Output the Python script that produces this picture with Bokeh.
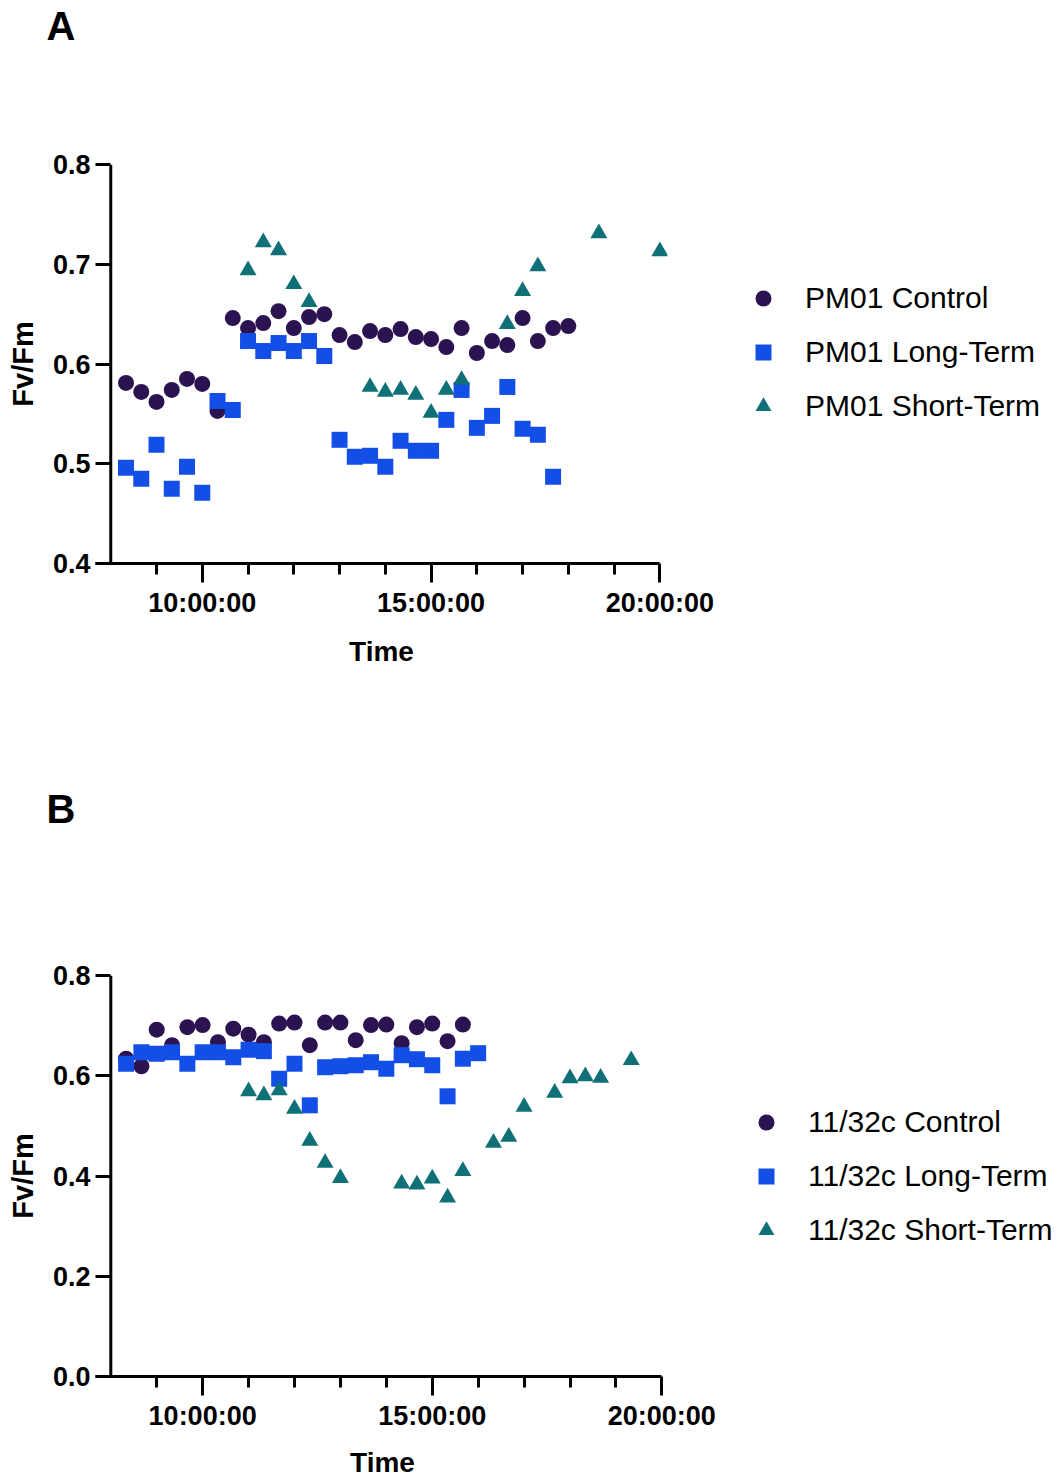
import numpy as np
import pandas as pd
from bokeh.plotting import figure
from bokeh.layouts import column
from bokeh.models import (FixedTicker, DatetimeTickFormatter, PrintfTickFormatter,
                          Legend, LegendItem, Span, Label, ColumnDataSource)
from bokeh.embed import file_html
from bokeh.resources import INLINE

# ---------------- data ----------------
# Panel A (PM01)
ctrl_A_t = ["08:20", "08:40", "09:00", "09:20", "09:40", "10:00", "10:20", "10:40", "11:00", "11:20",
            "11:40", "12:00", "12:20", "12:40", "13:00", "13:20", "13:40", "14:00", "14:20", "14:40",
            "15:00", "15:20", "15:40", "16:00", "16:20", "16:40", "17:00", "17:20", "17:40", "18:00"]
ctrl_A_v = [0.581, 0.572, 0.562, 0.574, 0.585, 0.580, 0.553, 0.646, 0.636, 0.641,
            0.653, 0.636, 0.647, 0.650, 0.629, 0.622, 0.633, 0.629, 0.635, 0.627,
            0.625, 0.617, 0.636, 0.611, 0.623, 0.619, 0.646, 0.623, 0.636, 0.638]

long_A_t = ["08:20", "08:40", "09:00", "09:20", "09:40", "10:00", "10:20", "10:40", "11:00", "11:20",
            "11:40", "12:00", "12:20", "12:40", "13:00", "13:20", "13:40", "14:00", "14:20", "14:40",
            "15:00", "15:20", "15:40", "16:00", "16:20", "16:40", "17:00", "17:20", "17:40"]
long_A_v = [0.496, 0.485, 0.519, 0.475, 0.497, 0.471, 0.563, 0.554, 0.623, 0.613,
            0.621, 0.613, 0.623, 0.608, 0.524, 0.507, 0.508, 0.497, 0.523, 0.513,
            0.513, 0.544, 0.574, 0.536, 0.548, 0.577, 0.535, 0.529, 0.487]

short_A_t = ["11:00", "11:20", "11:40", "12:00", "12:20", "13:40", "14:00", "14:20", "14:40",
             "15:00", "15:20", "15:40", "16:40", "17:00", "17:20", "18:40", "20:00"]
short_A_v = [0.694, 0.722, 0.714, 0.680, 0.662, 0.577, 0.572, 0.574, 0.569,
             0.551, 0.574, 0.584, 0.640, 0.673, 0.698, 0.731, 0.713]

# Panel B (11/32c)
ctrl_B_t = ["08:20", "08:40", "09:00", "09:20", "09:40", "10:00", "10:20", "10:40", "11:00", "11:20",
            "11:40", "12:00", "12:20", "12:40", "13:00", "13:20", "13:40", "14:00", "14:20", "14:40",
            "15:00", "15:20", "15:40"]
ctrl_B_v = [0.634, 0.619, 0.692, 0.661, 0.697, 0.701, 0.667, 0.694, 0.682, 0.667,
            0.704, 0.706, 0.661, 0.706, 0.706, 0.671, 0.701, 0.702, 0.665, 0.697,
            0.704, 0.669, 0.702]

long_B_t = ["08:20", "08:40", "09:00", "09:20", "09:40", "10:00", "10:20", "10:40", "11:00", "11:20",
            "11:40", "12:00", "12:20", "12:40", "13:00", "13:20", "13:40", "14:00", "14:20", "14:40",
            "15:00", "15:20", "15:40", "16:00"]
long_B_v = [0.624, 0.647, 0.644, 0.647, 0.624, 0.647, 0.647, 0.637, 0.652, 0.649,
            0.594, 0.624, 0.541, 0.617, 0.619, 0.621, 0.627, 0.614, 0.641, 0.633,
            0.621, 0.559, 0.634, 0.645]

short_B_t = ["11:00", "11:20", "11:40", "12:00", "12:20", "12:40", "13:00", "14:20", "14:40", "15:00",
             "15:20", "15:40", "16:20", "16:40", "17:00", "17:40", "18:00", "18:20", "18:40", "19:20"]
short_B_v = [0.569, 0.561, 0.571, 0.534, 0.470, 0.426, 0.396, 0.385, 0.383, 0.395,
             0.357, 0.410, 0.466, 0.478, 0.538, 0.566, 0.595, 0.599, 0.596, 0.631]

series_A = ["PM01 Control", "PM01 Long-Term", "PM01 Short-Term"]
series_B = ["11/32c Control", "11/32c Long-Term", "11/32c Short-Term"]

x_start = "07:40"      # x axis line starts here
x_yaxis_at = "08:00"   # y axis line drawn here
x_end = "20:00"        # x axis line ends here
x_pad_end = "20:10"    # room so the last marker is not cut
x_major = ["10:00", "15:00", "20:00"]
x_minor = ["09:00", "11:00", "12:00", "13:00", "14:00", "16:00", "17:00", "18:00", "19:00"]
y_ticks_A = [0.4, 0.5, 0.6, 0.7, 0.8]
y_ticks_B = [0.0, 0.2, 0.4, 0.6, 0.8]

COLORS = ["#2b1250", "#134fe6", "#0f7078"]
MARKERS = ["circle", "square", "triangle"]
SIZES = [16, 16, 17]

DAY = "2000-01-01 "
EPOCH = pd.Timestamp("1970-01-01")


def to_dt(lst):
    return pd.to_datetime([DAY + t for t in lst])


def to_ms(t):
    return (pd.Timestamp(DAY + t) - EPOCH).total_seconds() * 1000.0


FONT = "Liberation Sans"
PAGE_W = 1061


def letter_strip(letter, height, y_pos):
    f = figure(width=PAGE_W, height=height, x_range=(0, 1), y_range=(0, 1),
               x_axis_location=None, y_axis_location=None, toolbar_location=None,
               output_backend="svg", min_border_left=0, min_border_right=0,
               min_border_top=0, min_border_bottom=0)
    f.frame_align = False
    f.title.visible = False
    f.outline_line_color = None
    f.xgrid.visible = False
    f.ygrid.visible = False
    f.add_layout(Label(x=46, y=y_pos, x_units="screen", y_units="screen", text=letter,
                       text_align="left", text_baseline="alphabetic", text_font=FONT,
                       text_font_style="bold", text_font_size="40px", text_color="black"))
    return f


def make_panel(names, data, y_ticks, frame_w, frame_h, top, bottom, right, legend_xy, time_standoff):
    p = figure(x_axis_type="datetime", frame_width=frame_w, frame_height=frame_h,
               x_range=(to_ms(x_start), to_ms(x_pad_end)), y_range=(y_ticks[0], y_ticks[-1]),
               output_backend="svg", toolbar_location=None,
               min_border_left=95, min_border_right=right, min_border_top=top, min_border_bottom=bottom)
    p.frame_align = False
    p.title.visible = False
    p.outline_line_color = None
    p.xgrid.visible = False
    p.ygrid.visible = False
    p.background_fill_color = "white"
    p.border_fill_color = "white"

    renderers = []
    for (t, v), c, m, s in zip(data, COLORS, MARKERS, SIZES):
        src = ColumnDataSource(dict(x=to_dt(t), y=v))
        r = p.scatter("x", "y", source=src, marker=m, size=s, fill_color=c, line_color=None)
        renderers.append(r)

    # x axis
    xa = p.xaxis[0]
    xa.bounds = (to_ms(x_start), to_ms(x_end))
    xa.ticker = FixedTicker(ticks=[to_ms(t) for t in x_major], minor_ticks=[to_ms(t) for t in x_minor])
    fmt = "%H:%M:%S"
    xa.formatter = DatetimeTickFormatter(microseconds=fmt, milliseconds=fmt, seconds=fmt, minsec=fmt,
                                         minutes=fmt, hourmin=fmt, hours=fmt, days=fmt, months=fmt, years=fmt)
    xa.axis_line_width = 3
    xa.major_tick_line_width = 3
    xa.minor_tick_line_width = 3
    xa.major_tick_out = 19
    xa.major_tick_in = 0
    xa.minor_tick_out = 11
    xa.minor_tick_in = 0
    xa.major_label_standoff = 5
    xa.major_label_text_font = FONT
    xa.major_label_text_font_style = "bold"
    xa.major_label_text_font_size = "27px"
    xa.major_label_text_color = "black"
    xa.axis_label = "Time"
    xa.axis_label_standoff = time_standoff
    xa.axis_label_text_font = FONT
    xa.axis_label_text_font_style = "bold"
    xa.axis_label_text_font_size = "28px"
    xa.axis_label_text_color = "black"

    # y axis: ticks point inward from the frame edge; the axis line itself is a span at 08:00
    ya = p.yaxis[0]
    ya.ticker = FixedTicker(ticks=y_ticks)
    ya.formatter = PrintfTickFormatter(format="%.1f")
    ya.axis_line_color = None
    ya.major_tick_line_width = 3
    ya.major_tick_out = 0
    ya.major_tick_in = 15
    ya.minor_tick_line_color = None
    ya.major_label_standoff = 5
    ya.major_label_text_font = FONT
    ya.major_label_text_font_style = "bold"
    ya.major_label_text_font_size = "27px"
    ya.major_label_text_color = "black"
    ya.axis_label = "Fv/Fm"
    ya.axis_label_standoff = 11
    ya.axis_label_text_font = FONT
    ya.axis_label_text_font_style = "bold"
    ya.axis_label_text_font_size = "29px"
    ya.axis_label_text_color = "black"
    p.add_layout(Span(location=to_ms(x_yaxis_at), dimension="height", line_color="black", line_width=3))

    legend = Legend(items=[LegendItem(label=n, renderers=[r]) for n, r in zip(names, renderers)],
                    location=legend_xy, padding=0, margin=0, spacing=14,
                    glyph_width=40, glyph_height=40, label_standoff=22,
                    label_text_font=FONT, label_text_font_size="30px", label_text_color="black",
                    border_line_color=None, background_fill_alpha=0)
    p.add_layout(legend, "right")
    return p


fa = letter_strip("A", 60, 35)
pA = make_panel(series_A, [(ctrl_A_t, ctrl_A_v), (long_A_t, long_A_v), (short_A_t, short_A_v)],
                y_ticks_A, 572, 399, 104, 197, 394, (76, 137), 15)
fb = letter_strip("B", 100, 52)
pB = make_panel(series_B, [(ctrl_B_t, ctrl_B_v), (long_B_t, long_B_v), (short_B_t, short_B_v)],
                y_ticks_B, 574, 401, 115, 102, 392, (77, 126), 13)

layout = column(fa, pA, fb, pB, spacing=0)
open("out.html", "w").write(file_html(layout, INLINE))
